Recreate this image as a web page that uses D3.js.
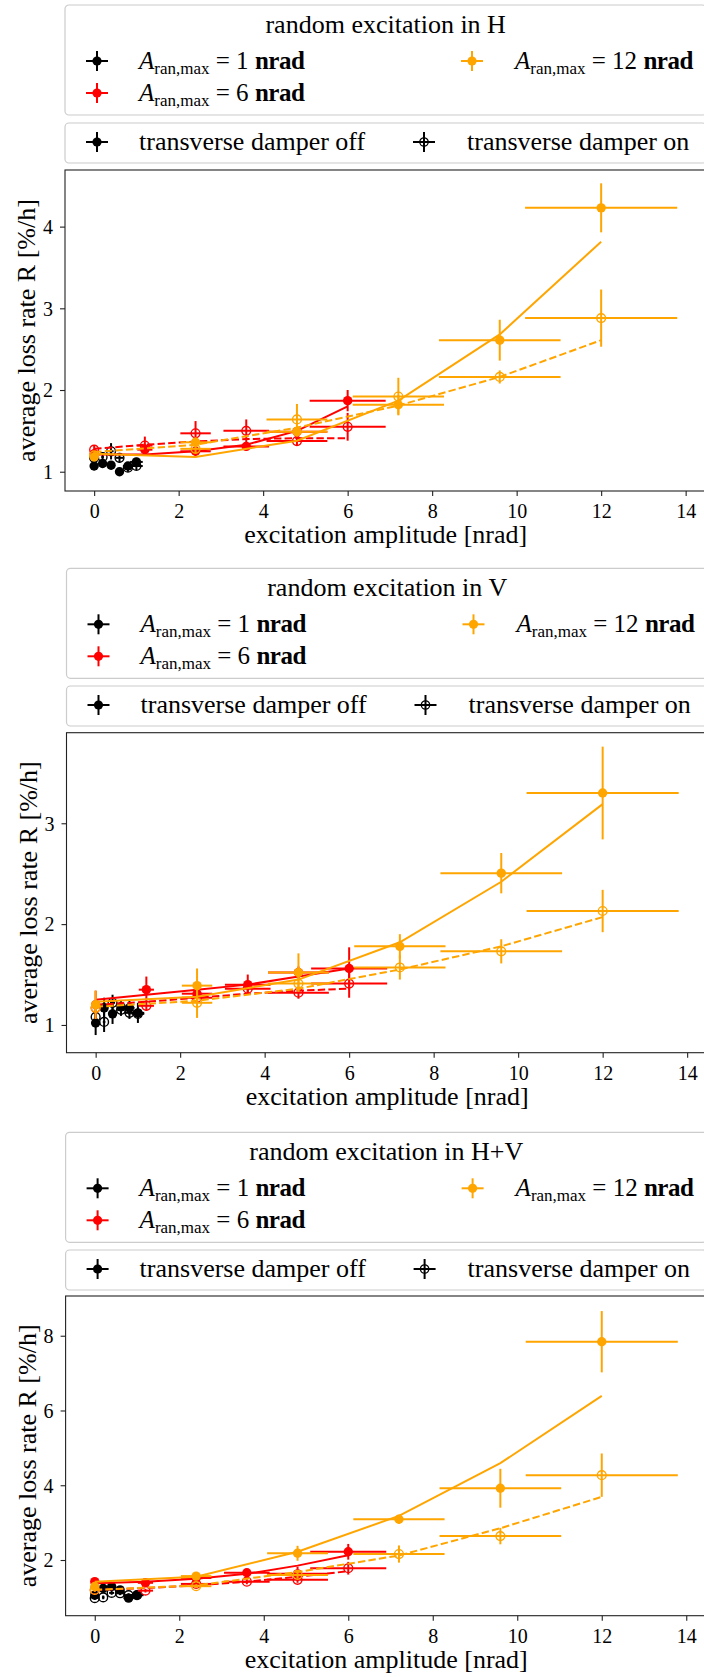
<!DOCTYPE html>
<html><head><meta charset="utf-8">
<script src="https://cdn.jsdelivr.net/npm/d3@7"></script>
<style>body{margin:0;background:#fff} svg{display:block} text{font-family:"Liberation Serif","Times New Roman",serif;fill:#000}</style>
</head><body><svg id="c" width="704" height="1677"></svg>
<script>
// ---------- data ----------
const xBlack  = [0, 0.2, 0.4, 0.6, 0.8, 1.0];
const xRed    = [0, 1.2, 2.4, 3.6, 4.8, 6.0];
const xOrange = [0, 2.4, 4.8, 7.2, 9.6, 12.0];
const xErrFrac = 0.15;
const xTicks = [0, 2, 4, 6, 8, 10, 12, 14];
const panelTitles = ["random excitation in H", "random excitation in V", "random excitation in H+V"];
const amplitudeLabels = ["1", "6", "12"];
const damperLabels = ["transverse damper off", "transverse damper on"];
const xAxisLabel = "excitation amplitude [nrad]";
const yAxisLabel = "average loss rate R [%/h]";

// H
const hBlackOff = [1.07, 1.10, 1.08, 1.00, 1.07, 1.12];
const hBlackOffErr = [0.05, 0.05, 0.05, 0.04, 0.05, 0.05];
const hBlackOn = [1.17, 1.18, 1.25, 1.17, 1.05, 1.07];
const hBlackOnErr = [0.06, 0.06, 0.10, 0.06, 0.05, 0.05];
const hRedOff = [1.22, 1.27, 1.25, 1.31, 1.49, 1.87];
const hRedOffErr = [0.04, 0.07, 0.07, 0.05, 0.06, 0.13];
const hRedOn = [1.27, 1.32, 1.47, 1.50, 1.375, 1.55];
const hRedOnErr = [0.05, 0.11, 0.15, 0.14, 0.06, 0.17];
const hOrangeOff = [1.18, 1.36, 1.49, 1.82, 2.61, 4.23];
const hOrangeOffErr = [0.04, 0.06, 0.06, 0.12, 0.25, 0.30];
const hOrangeOn = [1.20, 1.28, 1.64, 1.92, 2.16, 2.88];
const hOrangeOnErr = [0.04, 0.06, 0.19, 0.23, 0.08, 0.35];
const hRedFitOff = [1.21, 1.21, 1.25, 1.33, 1.50, 1.80];
const hRedFitOn = [1.28, 1.33, 1.37, 1.40, 1.41, 1.41];
const hOrangeFitOff = [1.22, 1.18, 1.38, 1.87, 2.68, 3.815];
const hOrangeFitOn = [1.24, 1.33, 1.54, 1.81, 2.16, 2.61];

// V
const vBlackOff = [1.02, 1.17, 1.11, 1.18, 1.17, 1.12];
const vBlackOffErr = [0.12, 0.10, 0.10, 0.06, 0.07, 0.10];
const vBlackOn = [1.08, 1.03, 1.22, 1.15, 1.12, 1.11];
const vBlackOnErr = [0.06, 0.10, 0.08, 0.06, 0.06, 0.05];
const vRedOff = [1.20, 1.35, 1.31, 1.40, 1.52, 1.56];
const vRedOffErr = [0.14, 0.13, 0.06, 0.10, 0.06, 0.21];
const vRedOn = [1.17, 1.19, 1.27, 1.36, 1.32, 1.41];
const vRedOnErr = [0.05, 0.05, 0.05, 0.06, 0.06, 0.14];
const vOrangeOff = [1.20, 1.39, 1.52, 1.78, 2.505, 3.30];
const vOrangeOffErr = [0.14, 0.17, 0.19, 0.12, 0.20, 0.46];
const vOrangeOn = [1.17, 1.22, 1.41, 1.57, 1.73, 2.13];
const vOrangeOnErr = [0.05, 0.15, 0.08, 0.12, 0.12, 0.21];
const vRedFitOff = [1.25, 1.30, 1.35, 1.40, 1.48, 1.56];
const vRedFitOn = [1.20, 1.23, 1.27, 1.31, 1.34, 1.36];
const vOrangeFitOff = [1.23, 1.28, 1.45, 1.82, 2.42, 3.19];
const vOrangeFitOn = [1.18, 1.24, 1.36, 1.55, 1.78, 2.07];

// H+V
const hvBlackOff = [1.06, 1.24, 1.29, 1.20, 0.98, 1.06];
const hvBlackOffErr = [0.07, 0.07, 0.07, 0.07, 0.07, 0.07];
const hvBlackOn = [0.98, 1.00, 1.12, 1.11, 1.06, 1.06];
const hvBlackOnErr = [0.05, 0.05, 0.05, 0.05, 0.05, 0.05];
const hvRedOff = [1.42, 1.39, 1.52, 1.66, 1.63, 2.22];
const hvRedOffErr = [0.05, 0.08, 0.06, 0.08, 0.19, 0.21];
const hvRedOn = [1.20, 1.18, 1.36, 1.42, 1.47, 1.78];
const hvRedOnErr = [0.05, 0.05, 0.05, 0.07, 0.08, 0.17];
const hvOrangeOff = [1.29, 1.57, 2.18, 3.09, 3.92, 7.84];
const hvOrangeOffErr = [0.05, 0.07, 0.20, 0.12, 0.52, 0.82];
const hvOrangeOn = [1.20, 1.30, 1.60, 2.16, 2.64, 4.27];
const hvOrangeOnErr = [0.05, 0.05, 0.10, 0.23, 0.22, 0.58];
const hvRedFitOff = [1.38, 1.42, 1.50, 1.63, 1.85, 2.13];
const hvRedFitOn = [1.20, 1.25, 1.32, 1.42, 1.55, 1.70];
const hvOrangeFitOff = [1.42, 1.55, 2.22, 3.18, 4.59, 6.39];
const hvOrangeFitOn = [1.20, 1.32, 1.68, 2.12, 2.85, 3.69];

const yTicksH = [1, 2, 3, 4];
const yTicksV = [1, 2, 3];
const yTicksHV = [2, 4, 6, 8];

// ---------- build ----------
const colors = {black: "#000000", red: "#ff0000", orange: "#ffa500"};
function group(col, xs, off, offErr, on, onErr, fitOff, fitOn) {
  return {col, xs, off, offErr, on, onErr, fitOff, fitOn};
}
const panels = [
  { title: panelTitles[0], yDomain: [0.764, 4.693], yTicks: yTicksH,
    layout: {left: 65, top: 170, bottom: 491, leg1: 5, leg2: 123},
    groups: [
      group("black", xBlack, hBlackOff, hBlackOffErr, hBlackOn, hBlackOnErr, null, null),
      group("red", xRed, hRedOff, hRedOffErr, hRedOn, hRedOnErr, hRedFitOff, hRedFitOn),
      group("orange", xOrange, hOrangeOff, hOrangeOffErr, hOrangeOn, hOrangeOnErr, hOrangeFitOff, hOrangeFitOn)] },
  { title: panelTitles[1], yDomain: [0.725, 3.898], yTicks: yTicksV,
    layout: {left: 66.5, top: 732.7, bottom: 1052.7, leg1: 568.3, leg2: 686},
    groups: [
      group("black", xBlack, vBlackOff, vBlackOffErr, vBlackOn, vBlackOnErr, null, null),
      group("red", xRed, vRedOff, vRedOffErr, vRedOn, vRedOnErr, vRedFitOff, vRedFitOn),
      group("orange", xOrange, vOrangeOff, vOrangeOffErr, vOrangeOn, vOrangeOnErr, vOrangeFitOff, vOrangeFitOn)] },
  { title: panelTitles[2], yDomain: [0.51, 9.063], yTicks: yTicksHV,
    layout: {left: 65.6, top: 1296, bottom: 1615.7, leg1: 1132.3, leg2: 1250},
    groups: [
      group("black", xBlack, hvBlackOff, hvBlackOffErr, hvBlackOn, hvBlackOnErr, null, null),
      group("red", xRed, hvRedOff, hvRedOffErr, hvRedOn, hvRedOnErr, hvRedFitOff, hvRedFitOn),
      group("orange", xOrange, hvOrangeOff, hvOrangeOffErr, hvOrangeOn, hvOrangeOnErr, hvOrangeFitOff, hvOrangeFitOn)] }
];

const svg = d3.select("#c");
const xMax = d3.max(xOrange) * (1 + xErrFrac);
const xDomain = [-0.05 * xMax, xMax * 1.05];
const pxPerUnit = 42.25;

function legendHandle(g, cx, cy, col, filled, hw, vh, r) {
  g.append("line").attr("x1", cx - hw).attr("x2", cx + hw).attr("y1", cy).attr("y2", cy)
    .attr("stroke", col).attr("stroke-width", 2);
  g.append("line").attr("x1", cx).attr("x2", cx).attr("y1", cy - vh).attr("y2", cy + vh)
    .attr("stroke", col).attr("stroke-width", 2);
  g.append("circle").attr("cx", cx).attr("cy", cy).attr("r", r)
    .attr("fill", filled ? col : "none").attr("stroke", col).attr("stroke-width", filled ? 0 : 1.3);
}

panels.forEach(p => {
  const L = p.layout;
  const right = L.left + (xDomain[1] - xDomain[0]) * pxPerUnit;
  const x = d3.scaleLinear().domain(xDomain).range([L.left, right]);
  const y = d3.scaleLinear().domain(p.yDomain).range([L.bottom, L.top]);
  const cxm = (L.left + right) / 2;

  // legend 1
  const lg = svg.append("g");
  lg.append("rect").attr("x", L.left).attr("y", L.leg1).attr("width", right - L.left).attr("height", 110)
    .attr("rx", 4).attr("fill", "#fff").attr("stroke", "#cccccc").attr("stroke-width", 1.2);
  lg.append("text").attr("x", cxm).attr("y", L.leg1 + 28).attr("text-anchor", "middle")
    .attr("font-size", 26).text(p.title);
  const entryPos = [
    {hx: L.left + 32, tx: L.left + 74, cy: L.leg1 + 56},
    {hx: L.left + 32, tx: L.left + 74, cy: L.leg1 + 88},
    {hx: L.left + 407, tx: L.left + 450, cy: L.leg1 + 56}];
  p.groups.forEach((gr, i) => {
    const e = entryPos[i];
    legendHandle(lg, e.hx, e.cy, colors[gr.col], true, 11, 10, 4.6);
    const t = lg.append("text").attr("x", e.tx).attr("y", e.cy + 8).attr("font-size", 25);
    t.append("tspan").attr("font-style", "italic").text("A");
    t.append("tspan").attr("font-size", 17).attr("dy", 5).text("ran,max");
    t.append("tspan").attr("dy", -5).text(" = " + amplitudeLabels[i] + " ");
    t.append("tspan").attr("font-weight", "bold").attr("letter-spacing", -0.5).text("nrad");
  });

  // legend 2
  lg.append("rect").attr("x", L.left).attr("y", L.leg2).attr("width", right - L.left).attr("height", 40)
    .attr("rx", 4).attr("fill", "#fff").attr("stroke", "#cccccc").attr("stroke-width", 1.2);
  const cy2 = L.leg2 + 19;
  legendHandle(lg, L.left + 32, cy2, "#000", true, 11, 10, 4.6);
  lg.append("text").attr("x", L.left + 74).attr("y", cy2 + 8).attr("font-size", 26).text(damperLabels[0]);
  legendHandle(lg, L.left + 359, cy2, "#000", false, 11, 10, 4.2);
  lg.append("text").attr("x", L.left + 402).attr("y", cy2 + 8).attr("font-size", 26).text(damperLabels[1]);

  // plot
  const g = svg.append("g");
  const lineGen = d3.line().x(d => x(d[0])).y(d => y(d[1]));
  p.groups.forEach(gr => {
    const col = colors[gr.col];
    [[gr.off, gr.offErr, true], [gr.on, gr.onErr, false]].forEach(([vals, errs, filled]) => {
      const pts = gr.xs.map((xv, i) => ({xv, yv: vals[i], e: errs[i]}));
      const sg = g.append("g");
      sg.selectAll("line.h").data(pts).join("line")
        .attr("x1", d => x(d.xv * (1 - xErrFrac))).attr("x2", d => x(d.xv * (1 + xErrFrac)))
        .attr("y1", d => y(d.yv)).attr("y2", d => y(d.yv))
        .attr("stroke", col).attr("stroke-width", 2);
      sg.selectAll("line.v").data(pts).join("line")
        .attr("x1", d => x(d.xv)).attr("x2", d => x(d.xv))
        .attr("y1", d => y(d.yv - d.e)).attr("y2", d => y(d.yv + d.e))
        .attr("stroke", col).attr("stroke-width", 2);
      sg.selectAll("circle").data(pts).join("circle")
        .attr("cx", d => x(d.xv)).attr("cy", d => y(d.yv)).attr("r", filled ? 4.7 : 4.4)
        .attr("fill", filled ? col : "none").attr("stroke", col).attr("stroke-width", filled ? 0 : 1.4);
    });
    if (gr.fitOff) {
      g.append("path").datum(gr.xs.map((xv, i) => [xv, gr.fitOff[i]])).attr("d", lineGen)
        .attr("fill", "none").attr("stroke", col).attr("stroke-width", 2);
      g.append("path").datum(gr.xs.map((xv, i) => [xv, gr.fitOn[i]])).attr("d", lineGen)
        .attr("fill", "none").attr("stroke", col).attr("stroke-width", 2).attr("stroke-dasharray", "7.4,3.2");
    }
  });

  // frame
  g.append("rect").attr("x", L.left).attr("y", L.top).attr("width", right - L.left).attr("height", L.bottom - L.top)
    .attr("fill", "none").attr("stroke", "#222").attr("stroke-width", 1.1);

  // axes
  const xa = svg.append("g").attr("transform", `translate(0,${L.bottom})`)
    .call(d3.axisBottom(x).tickValues(xTicks).tickSize(5).tickFormat(d3.format("d")));
  xa.select(".domain").remove();
  xa.selectAll(".tick line").attr("stroke", "#222").attr("stroke-width", 1.1);
  xa.selectAll(".tick text").attr("y", 27).attr("dy", 0).attr("font-size", 20)
    .attr("font-family", "Liberation Serif").attr("fill", "#222");

  const ya = svg.append("g").attr("transform", `translate(${L.left},0)`)
    .call(d3.axisLeft(y).tickValues(p.yTicks).tickSize(5).tickFormat(d3.format("d")));
  ya.select(".domain").remove();
  ya.selectAll(".tick line").attr("stroke", "#222").attr("stroke-width", 1.1);
  ya.selectAll(".tick text").attr("x", -12).attr("dy", "0.34em").attr("font-size", 20)
    .attr("font-family", "Liberation Serif").attr("fill", "#222");

  svg.append("text").attr("x", cxm).attr("y", L.bottom + 52).attr("text-anchor", "middle")
    .attr("font-size", 26).text(xAxisLabel);
  svg.append("text").attr("transform", `translate(${L.left - 30},${(L.top + L.bottom) / 2}) rotate(-90)`)
    .attr("text-anchor", "middle").attr("font-size", 26).text(yAxisLabel);
});
</script>
</body></html>
